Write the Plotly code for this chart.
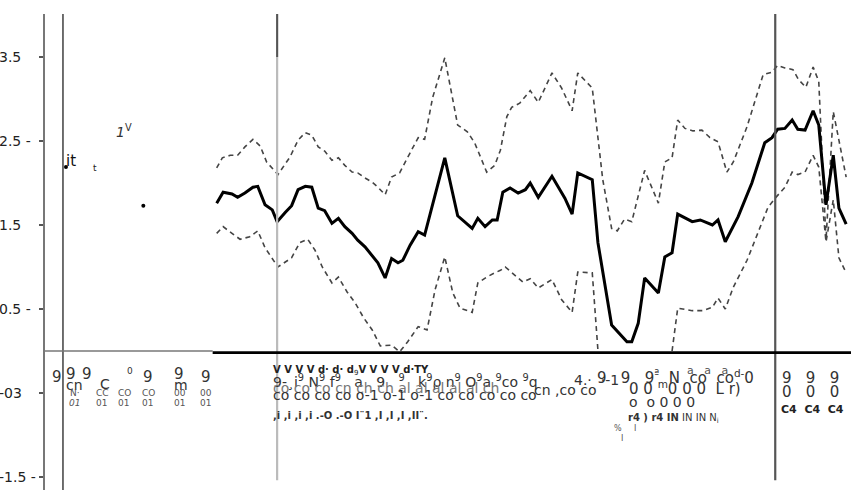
import plotly.graph_objects as go

# ---------------- data (period index t, value) ----------------
mid_t = [21.3, 22.1, 23.2, 23.9, 24.8, 25.8, 26.4, 27.3, 28.2, 28.8, 29.8, 30.6, 31.4, 32.3, 33.1,
         33.9, 34.7, 35.6, 36.4, 37.2, 38.1, 38.8, 39.7, 40.6, 41.3, 42.2, 43.0, 43.8, 44.4, 45.3,
         46.3, 47.1, 48.0, 49.6, 51.2, 52.1, 53.0, 53.7, 54.6, 55.5, 56.1, 56.8, 57.7, 58.7, 59.6,
         60.2, 61.2, 62.9, 64.5, 65.4, 66.1, 67.9, 68.6, 70.3, 72.2, 72.8, 73.6, 74.4, 76.1, 76.9,
         77.8, 78.5, 80.3, 81.3, 82.8, 83.5, 84.4, 86.0, 87.7, 89.3, 90.2, 90.9, 91.8, 92.7, 93.4,
         94.3, 95.3, 96.0, 96.9, 97.8, 98.5, 99.4]
mid_v = [1.76, 1.89, 1.87, 1.83, 1.88, 1.95, 1.96, 1.74, 1.68, 1.54, 1.65, 1.73, 1.92, 1.96, 1.95,
         1.70, 1.67, 1.52, 1.58, 1.48, 1.40, 1.32, 1.24, 1.14, 1.05, 0.87, 1.10, 1.05, 1.08, 1.26,
         1.42, 1.38, 1.70, 2.30, 1.61, 1.54, 1.46, 1.58, 1.48, 1.56, 1.56, 1.89, 1.94, 1.88, 1.92,
         2.00, 1.83, 2.08, 1.82, 1.63, 2.12, 2.04, 1.29, 0.31, 0.11, 0.11, 0.33, 0.87, 0.69, 1.12,
         1.17, 1.63, 1.54, 1.56, 1.50, 1.56, 1.30, 1.60, 2.00, 2.48, 2.54, 2.64, 2.65, 2.75, 2.64,
         2.63, 2.86, 2.69, 1.74, 2.33, 1.70, 1.51]

up_t = [21.3, 22.0, 23.0, 23.9, 24.8, 25.8, 26.7, 27.5, 28.9, 30.4, 31.4, 32.3, 33.1, 33.9, 34.7,
        35.6, 36.4, 37.2, 38.1, 38.8, 39.7, 40.6, 41.3, 42.2, 43.0, 44.0, 45.3, 46.3, 47.1, 48.1,
        49.6, 50.6, 51.2, 52.4, 53.3, 54.8, 55.8, 56.5, 57.3, 57.9, 58.9, 60.2, 61.2, 62.9, 64.1,
        65.4, 66.1, 67.9, 68.5, 69.2, 70.3, 71.0, 71.9, 72.8, 74.4, 76.1, 76.9, 77.8, 78.5, 79.4,
        80.4, 81.5, 82.5, 83.5, 84.6, 85.4, 87.1, 89.1, 90.2, 90.9, 91.8, 92.8, 93.5, 94.4, 95.3,
        96.0, 96.9, 97.8, 98.5, 99.4]
up_v = [2.18, 2.30, 2.33, 2.33, 2.43, 2.52, 2.44, 2.25, 2.10, 2.31, 2.51, 2.60, 2.57, 2.43, 2.38,
        2.27, 2.30, 2.21, 2.13, 2.12, 2.06, 2.01, 1.95, 1.86, 2.07, 2.12, 2.36, 2.54, 2.52, 3.02,
        3.49, 2.99, 2.69, 2.61, 2.48, 2.13, 2.21, 2.39, 2.79, 2.90, 2.95, 3.10, 2.96, 3.31, 3.13,
        2.86, 3.31, 3.13, 2.65, 2.04, 1.46, 1.43, 1.57, 1.54, 2.15, 1.76, 2.25, 2.30, 2.75, 2.65,
        2.62, 2.63, 2.54, 2.49, 2.13, 2.25, 2.67, 3.29, 3.32, 3.40, 3.37, 3.35, 3.23, 3.14, 3.38,
        3.21, 1.32, 2.85, 2.51, 2.07]

lo_t = [21.3, 22.1, 23.2, 24.2, 25.4, 26.4, 27.3, 28.9, 30.6, 31.6, 32.6, 33.5, 34.4, 35.6, 36.4,
        37.5, 38.5, 39.5, 40.6, 41.6, 43.0, 44.0, 45.0, 46.3, 47.4, 48.4, 49.6, 50.6, 51.5, 53.0,
        53.7, 54.8, 55.8, 56.5, 57.1, 58.3, 59.3, 60.2, 61.2, 62.9, 64.1, 65.4, 66.1, 67.9, 68.6,
        73.0, 77.8, 78.5, 80.3, 81.6, 82.8, 83.5, 84.4, 85.4, 87.1, 88.7, 89.7, 90.6, 91.8, 92.7,
        93.4, 94.3, 95.3, 96.0, 96.9, 97.8, 98.5, 99.4]
lo_v = [1.40, 1.48, 1.40, 1.33, 1.36, 1.43, 1.23, 1.00, 1.11, 1.29, 1.33, 1.20, 1.00, 0.81, 0.88,
        0.70, 0.57, 0.40, 0.25, 0.06, 0.07, -0.01, 0.11, 0.29, 0.25, 0.73, 1.12, 0.69, 0.51, 0.46,
        0.81, 0.88, 0.93, 0.96, 1.00, 0.90, 0.82, 0.86, 0.75, 0.85, 0.61, 0.46, 0.94, 0.93, 0.01,
        None, 0.00, 0.51, 0.48, 0.48, 0.52, 0.63, 0.50, 0.76, 1.08, 1.48, 1.71, 1.82, 1.95, 2.13,
        2.10, 2.13, 2.33, 2.19, 1.30, 1.80, 1.11, 0.93]

dot_t = [2.6, 12.2]
dot_v = [2.19, 1.73]

ytick_vals = [3.5, 2.5, 1.5, 0.5, -0.5, -1.5]
ytick_text = ["3.5", "2.5 -", "1.5", "0.5 -", "-03", "-1.5 -"]

vline_t = [2.23, 28.8, 90.6]

# ---------------- figure ----------------
W, H = 851, 490
ML, MT = 45, 14
PW, PH = W - ML, H - MT
Y0, Y1 = -1.655, 4.012

fig = go.Figure()
fig.add_trace(go.Scatter(x=up_t, y=up_v, mode="lines",
                         line=dict(color="#444", width=1.6, dash="5px,4px"), showlegend=False))
fig.add_trace(go.Scatter(x=lo_t, y=lo_v, mode="lines", connectgaps=False,
                         line=dict(color="#444", width=1.6, dash="5px,4px"), showlegend=False))
fig.add_trace(go.Scatter(x=mid_t, y=mid_v, mode="lines",
                         line=dict(color="#000", width=3), showlegend=False))
fig.add_trace(go.Scatter(x=dot_t, y=dot_v, mode="markers",
                         marker=dict(color="#000", size=4), showlegend=False))

shapes = [
    dict(type="line", xref="x", yref="paper", x0=vline_t[0], x1=vline_t[0], y0=0, y1=1,
         line=dict(color="#222", width=1.3)),
    dict(type="line", xref="x", yref="y", x0=vline_t[1], x1=vline_t[1], y0=-1.54, y1=Y1,
         line=dict(color="#bbb", width=2.2)),
    dict(type="line", xref="x", yref="y", x0=vline_t[1], x1=vline_t[1], y0=3.5, y1=Y1,
         line=dict(color="#555", width=2.0)),
    dict(type="line", xref="x", yref="y", x0=vline_t[2], x1=vline_t[2], y0=-1.54, y1=Y1,
         line=dict(color="#555", width=2.2)),
    dict(type="line", xref="x", yref="y", x0=0, x1=20.8, y0=0, y1=0,
         line=dict(color="#777", width=1.6)),
    dict(type="line", xref="x", yref="y", x0=20.8, x1=100, y0=-0.02, y1=-0.02,
         line=dict(color="#000", width=2.6)),
]


def pp(px, py):
    return (px - ML) / PW, (H - py) / PH


annotations = []
for v, txt in zip(ytick_vals, ytick_text):
    annotations.append(dict(text=txt, xref="paper", yref="y", x=pp(0, 0)[0], y=v,
                            xanchor="left", yanchor="middle", showarrow=False, xshift=-3,
                            font=dict(size=14, color="#222", family="DejaVu Sans")))

# garbled scanned labels
labels = [
    ("it", 64, 161, 15, "#111"), ("t", 91, 168, 9, "#222"),
    ("<i>1</i><sup>V</sup>", 114, 131, 14, "#333"),
    ("9", 50, 377, 15, "#333"), ("9", 64, 374, 15, "#333"), ("9", 80, 374, 15, "#333"),
    ("cn", 64, 385, 14, "#333"), ("C", 98, 384, 14, "#333"), ("0", 125, 371, 9, "#333"),
    ("9", 141, 377, 15, "#333"), ("9", 172, 374, 15, "#333"), ("m", 172, 385, 14, "#333"),
    ("9", 199, 377, 15, "#333"),
    ("N·", 68, 393, 9, "#555"), ("CC", 94, 393, 9, "#555"), ("CO", 116, 393, 9, "#555"),
    ("CO", 140, 393, 9, "#555"), ("00", 172, 393, 9, "#555"), ("00", 198, 393, 9, "#555"),
    ("<i>01</i>", 67, 403, 9, "#555"), ("01", 94, 403, 9, "#555"), ("01", 116, 403, 9, "#555"),
    ("01", 140, 403, 9, "#555"), ("01", 172, 403, 9, "#555"), ("01", 198, 403, 9, "#555"),
    ("<b>V V V V d· d· d</b><sub>9</sub><b>V V V V d·TY</b>", 271, 370, 10, "#222"),
    ("9-¸i<sup>9</sup> N<sup>9</sup> f<sup>9</sup>   a   9   <sup>9</sup>   k<sup>9</sup>ρ n<sup>9</sup> O<sup>9</sup>a <sup>9</sup>co <sup>9</sup>q",
     271, 381, 14, "#333"),
    ("co co co cn ch ch al al al al al ch", 271, 388, 14, "#777"),
    ("co co co co o-1 o-1 o-1 co co co co co", 271, 395, 14, "#333"),
    ("<b>,i ,i ,i ,i .-O .-O I¨1 ,I ,I ,I ,II¨.</b>", 271, 415, 10, "#333"),
    ("4.·  ·-1", 572, 380, 14, "#333"), ("cn ,co co", 532, 390, 14, "#333"),
    ("9   9   9<sup>ª</sup>  N  co  co<sup>d-</sup>0", 595, 377, 15, "#333"),
    ("0 0 <sup>m</sup>0 0 0  L r)", 627, 388, 15, "#333"),
    ("o  o 0 0 0", 627, 402, 14, "#333"),
    ("<b>r4 ) r4 IN</b> IN IN N<sub>i</sub>", 626, 418, 10, "#333"),
    ("%", 612, 428, 8, "#555"), ("I", 632, 428, 8, "#555"), ("I", 619, 438, 8, "#555"),
    ("a   a   a", 685, 370, 11, "#555"),
    ("9   9   9", 780, 378, 15, "#333"), ("0   0   0", 780, 392, 15, "#333"),
    ("<b>C4  C4  C4</b>", 779, 410, 11, "#222"),
]
for txt, px, py, size, col in labels:
    xp, yp = pp(px, py)
    annotations.append(dict(text=txt, xref="paper", yref="paper", x=xp, y=yp,
                            xanchor="left", yanchor="middle", showarrow=False,
                            font=dict(size=size, color=col, family="DejaVu Sans")))

fig.update_layout(
    width=W, height=H,
    margin=dict(l=ML, r=0, t=MT, b=0),
    paper_bgcolor="white", plot_bgcolor="white",
    xaxis=dict(range=[0, 100], visible=False, showgrid=False, zeroline=False),
    yaxis=dict(range=[Y0, Y1], showgrid=False, zeroline=False,
               showline=True, linecolor="#777", linewidth=2,
               tickmode="array", tickvals=ytick_vals, showticklabels=False,
               ticks="outside", ticklen=4, tickcolor="#555", tickwidth=1.5),
    shapes=shapes, annotations=annotations,
)

fig.write_html("out.html")
